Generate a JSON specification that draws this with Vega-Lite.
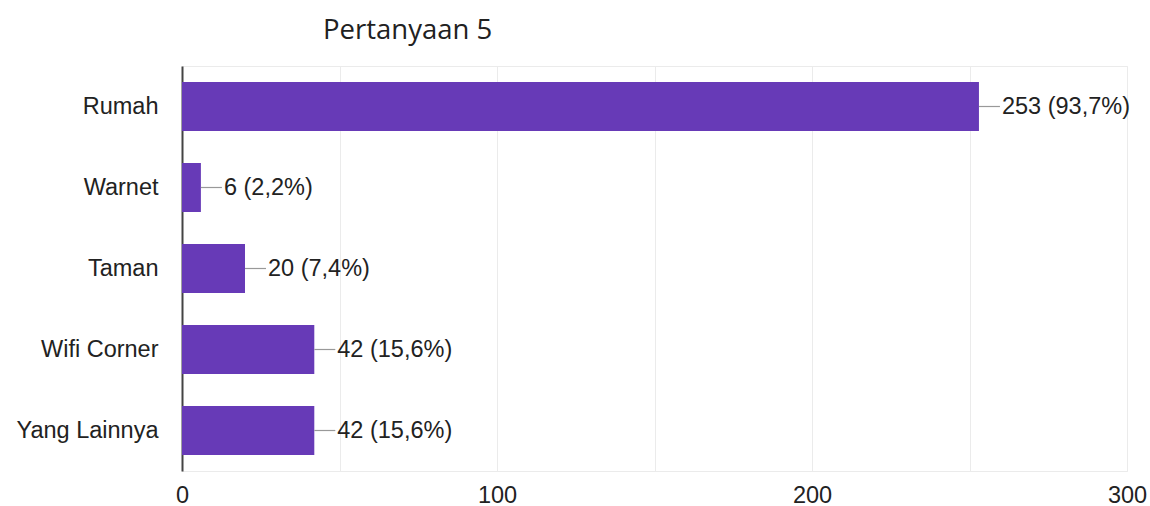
{
  "$schema": "https://vega.github.io/schema/vega-lite/v6.json",
  "width": 945,
  "height": 405,
  "autosize": {"type": "none"},
  "padding": {"left": 182, "top": 66, "right": 23, "bottom": 35},
  "background": "white",
  "title": {
    "text": "Pertanyaan 5",
    "anchor": "start",
    "frame": "group",
    "dx": 141,
    "offset": 0,
    "baseline": "alphabetic",
    "font": "Open Sans",
    "fontSize": 27.5,
    "fontWeight": "normal",
    "color": "#212121"
  },
  "data": {
    "values": [
      {"kategori": "Rumah", "jumlah": 253, "label": "253 (93,7%)"},
      {"kategori": "Warnet", "jumlah": 6, "label": "6 (2,2%)"},
      {"kategori": "Taman", "jumlah": 20, "label": "20 (7,4%)"},
      {"kategori": "Wifi Corner", "jumlah": 42, "label": "42 (15,6%)"},
      {"kategori": "Yang Lainnya", "jumlah": 42, "label": "42 (15,6%)"}
    ]
  },
  "encoding": {
    "y": {
      "field": "kategori",
      "type": "nominal",
      "sort": null,
      "scale": {"paddingInner": 0.395, "paddingOuter": 0.1975},
      "axis": {
        "title": null,
        "ticks": false,
        "grid": false,
        "labelFont": "Liberation Sans",
        "labelFontSize": 23.5,
        "labelColor": "#222222",
        "labelPadding": 24,
        "domainColor": "#444444",
        "domainWidth": 2
      }
    },
    "x": {
      "field": "jumlah",
      "type": "quantitative",
      "scale": {"domain": [0, 300], "nice": false},
      "axis": {
        "title": null,
        "values": [0, 50, 100, 150, 200, 250, 300],
        "labelExpr": "datum.value % 100 == 0 ? datum.label : ''",
        "ticks": false,
        "domain": false,
        "grid": true,
        "gridColor": "#ebebeb",
        "gridWidth": 1,
        "labelFont": "Liberation Sans",
        "labelFontSize": 23.5,
        "labelColor": "#222222",
        "labelPadding": 12,
        "labelFlush": false
      }
    }
  },
  "layer": [
    {"mark": {"type": "bar", "color": "#673ab7"}},
    {
      "mark": {"type": "rule", "color": "#999999", "strokeWidth": 1.2, "x2Offset": 21},
      "encoding": {"x2": {"field": "jumlah"}}
    },
    {
      "mark": {"type": "text", "align": "left", "baseline": "middle", "dx": 23, "font": "Liberation Sans", "fontSize": 23.5, "color": "#222222"},
      "encoding": {"text": {"field": "label"}}
    }
  ],
  "config": {
    "view": {"stroke": "#ebebeb", "strokeWidth": 1}
  }
}
